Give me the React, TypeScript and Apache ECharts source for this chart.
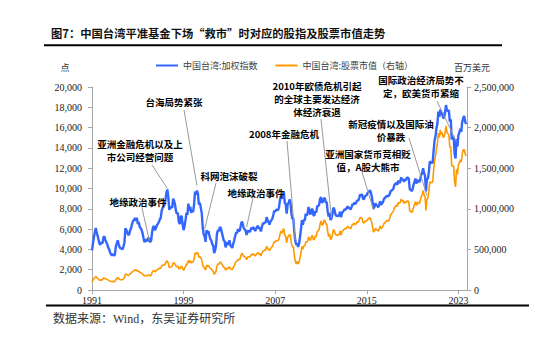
import React, { useEffect, useRef } from 'react';
import * as echarts from 'echarts';

// ---------- data ----------
const startYear = 1991;
const xTickYears = [1991, 1999, 2007, 2015, 2023];
const seriesNames = ['中国台湾:加权指数', '中国台湾:股票市值（右轴）'];
const titleText = '图7：中国台湾平准基金下场“救市”时对应的股指及股票市值走势';
const sourceText = '数据来源：Wind，东吴证券研究所';
const leftUnit = '点';
const rightUnit = '百万美元';

// TAIEX monthly, Jan 1991 .. Sep 2023
const taiex = [
  3900, 4600, 5200, 5700, 6100, 5600, 5300, 4900, 4500, 4500, 4700, 4600,
  5200, 5300, 4900, 4700, 4500, 4200, 4000, 3700, 3500, 3400, 3550, 3380,
  3500, 4300, 4600, 4900, 4500, 4200, 4100, 4100, 4000, 4300, 4700, 6070,
  5900, 5700, 5400, 5500, 5900, 6100, 6500, 6800, 6900, 7100, 6800, 7120,
  6500, 6700, 6200, 6100, 5900, 5600, 5100, 4700, 5000, 4900, 4800, 5170,
  5000, 4700, 4900, 5700, 6200, 6300, 5900, 6100, 6400, 6500, 6700, 6930,
  7100, 7800, 8100, 8200, 8400, 8900, 9600, 9900, 9100, 7900, 8100, 8190,
  8100, 9000, 8800, 8400, 7800, 7500, 7600, 6700, 6500, 7200, 7300, 6420,
  5900, 6300, 6900, 7600, 7400, 8500, 7800, 8200, 7600, 7800, 7700, 8450,
  9700, 9400, 9800, 9500, 8400, 8600, 8100, 7600, 6200, 5500, 5300, 4740,
  5900, 5600, 5800, 5400, 5000, 4900, 4500, 4400, 3640, 3900, 4400, 5550,
  5900, 5800, 6200, 6100, 5700, 5300, 4900, 4800, 4200, 4500, 4700, 4450,
  4900, 4400, 4300, 4150, 4550, 4870, 5300, 5650, 5600, 6000, 5800, 5890,
  6400, 6750, 6500, 6120, 5980, 5840, 5420, 5770, 5850, 5710, 5840, 6140,
  6000, 6200, 6010, 5820, 6010, 6240, 6310, 6040, 6120, 5760, 6200, 6550,
  6530, 6700, 6610, 7170, 6900, 6700, 6450, 6750, 6880, 7020, 7390, 7820,
  7700, 7900, 7890, 7880, 8140, 8880, 9290, 8980, 9410, 9710, 8590, 8510,
  7520, 8410, 8570, 8920, 8620, 7520, 7020, 7050, 5720, 4870, 4460, 4590,
  4250, 4560, 5210, 6000, 6890, 6430, 6930, 6830, 7510, 7340, 7580, 8190,
  7640, 7440, 7920, 8000, 7370, 7330, 7760, 7620, 8240, 8290, 8370, 8970,
  9150, 8600, 8680, 9010, 9050, 8650, 8640, 7740, 7230, 7590, 6900, 7070,
  7520, 8120, 7930, 7500, 7300, 7300, 7270, 7400, 7720, 7170, 7580, 7700,
  7850, 7960, 7920, 8090, 8250, 8060, 8110, 7920, 8170, 8450, 8410, 8610,
  8460, 8640, 8850, 8790, 9080, 9390, 9320, 9440, 8970, 8970, 9190, 9310,
  9360, 9620, 9590, 9820, 9700, 9320, 8670, 8020, 8180, 8550, 8320, 8340,
  8140, 8410, 8740, 8380, 8540, 8670, 9000, 9070, 9170, 9290, 9240, 9250,
  9450, 9750, 9810, 9870, 10040, 10400, 10430, 10590, 10380, 10790, 10560, 10640,
  11100, 10820, 10950, 10660, 10870, 10840, 11060, 11060, 10980, 9900, 9890, 9730,
  9930, 10390, 10640, 10980, 10500, 10730, 10820, 10620, 10870, 11360, 11490, 12000,
  11500, 11290, 9710, 10990, 10940, 11620, 12660, 12590, 12520, 12550, 13720, 14730,
  15140, 15950, 16430, 17570, 17070, 17760, 17250, 17490, 16930, 16990, 17430, 18220,
  17670, 17650, 17690, 16590, 16810, 14830, 15000, 15100, 13420, 12950, 14880, 14140,
  15270, 15500, 15870, 15580, 16580, 16920, 17150, 16630, 16350,
];

// Market capitalisation, USD million, Jan 1991 .. Sep 2023
const marketCap = [
  95000, 124000, 140000, 154000, 165000, 151000, 143000, 132000, 122000, 122000, 127000, 124000,
  146000, 148000, 137000, 136000, 131000, 122000, 116000, 107000, 105000, 102000, 107000, 101000,
  105000, 129000, 143000, 152000, 140000, 130000, 127000, 127000, 128000, 138000, 150000, 194000,
  195000, 188000, 178000, 187000, 201000, 207000, 221000, 231000, 242000, 249000, 238000, 249000,
  228000, 235000, 217000, 214000, 207000, 196000, 184000, 169000, 180000, 176000, 173000, 186000,
  185000, 174000, 181000, 217000, 236000, 239000, 224000, 232000, 250000, 254000, 261000, 270000,
  270000, 296000, 308000, 303000, 311000, 329000, 355000, 356000, 328000, 277000, 284000, 287000,
  292000, 333000, 334000, 319000, 296000, 285000, 296000, 261000, 260000, 288000, 292000, 263000,
  242000, 265000, 290000, 319000, 318000, 366000, 335000, 361000, 334000, 343000, 347000, 380000,
  456000, 442000, 461000, 456000, 403000, 413000, 397000, 372000, 310000, 281000, 270000, 246000,
  307000, 291000, 302000, 281000, 265000, 260000, 239000, 233000, 193000, 207000, 233000, 294000,
  319000, 319000, 341000, 342000, 319000, 302000, 279000, 274000, 244000, 261000, 273000, 263000,
  289000, 264000, 258000, 249000, 278000, 297000, 329000, 350000, 353000, 378000, 371000, 377000,
  422000, 452000, 436000, 416000, 407000, 403000, 374000, 404000, 410000, 405000, 415000, 442000,
  432000, 446000, 433000, 419000, 433000, 449000, 461000, 441000, 447000, 420000, 453000, 478000,
  483000, 496000, 489000, 538000, 518000, 503000, 484000, 506000, 523000, 534000, 562000, 594000,
  593000, 608000, 608000, 607000, 627000, 684000, 725000, 700000, 734000, 757000, 670000, 664000,
  579000, 648000, 660000, 687000, 664000, 572000, 534000, 536000, 429000, 356000, 321000, 353000,
  319000, 342000, 396000, 462000, 537000, 502000, 547000, 540000, 593000, 587000, 606000, 655000,
  626000, 610000, 657000, 672000, 619000, 623000, 667000, 655000, 717000, 730000, 745000, 807000,
  851000, 800000, 807000, 856000, 860000, 813000, 812000, 720000, 658000, 691000, 621000, 636000,
  684000, 747000, 730000, 690000, 672000, 679000, 676000, 688000, 726000, 674000, 720000, 732000,
  746000, 756000, 752000, 769000, 784000, 766000, 770000, 752000, 784000, 811000, 807000, 827000,
  804000, 821000, 841000, 835000, 863000, 892000, 885000, 887000, 834000, 825000, 845000, 847000,
  852000, 875000, 873000, 894000, 873000, 839000, 780000, 714000, 728000, 761000, 740000, 742000,
  724000, 748000, 787000, 754000, 769000, 789000, 819000, 825000, 844000, 855000, 850000, 851000,
  888000, 926000, 942000, 957000, 974000, 1019000, 1022000, 1048000, 1028000, 1079000, 1067000, 1075000,
  1121000, 1093000, 1106000, 1066000, 1087000, 1073000, 1095000, 1095000, 1087000, 970000, 969000, 954000,
  973000, 1018000, 1053000, 1087000, 1040000, 1073000, 1082000, 1062000, 1098000, 1147000, 1172000, 1224000,
  1173000, 1152000, 981000, 1121000, 1127000, 1208000, 1329000, 1322000, 1327000, 1330000, 1468000, 1591000,
  1650000, 1739000, 1807000, 1933000, 1878000, 1971000, 1915000, 1941000, 1879000, 1886000, 1935000, 2022000,
  1944000, 1924000, 1911000, 1759000, 1765000, 1527000, 1530000, 1525000, 1329000, 1269000, 1488000, 1428000,
  1542000, 1566000, 1603000, 1574000, 1675000, 1726000, 1732000, 1680000, 1651000,
];

// annotation texts and the data point (month index, index value) each one points at
const annotationTexts = [
  ['亚洲金融危机以及上', '市公司经营问题'],
  ['台海局势紧张'],
  ['科网泡沫破裂'],
  ['地缘政治事件'],
  ['地缘政治事件'],
  ['2008年金融危机'],
  ['2010年欧债危机引起', '的全球主要发达经济', '体经济衰退'],
  ['亚洲国家货币竞相贬', '值，A股大熊市'],
  ['新冠疫情以及国际油', '价暴跌'],
  ['国际政治经济局势不', '定，欧美货币紧缩'],
];
const annotationTargets = [
  [79, 10000],
  [110, 10300],
  [118, 6000],
  [60, 4900],
  [162, 6200],
  [213, 4900],
  [251, 7100],
  [295, 7900],
  [351, 9300],
  [382, 14600],
];

// ---------- layout (pixels) ----------
const annotationLayout = [
  { tx: 140, ty: 144, lh: 13, from: [152, 165] },
  { tx: 174, ty: 102, lh: 13, from: [184, 110] },
  { tx: 229, ty: 176, lh: 13, from: [216, 183] },
  { tx: 138, ty: 202, lh: 13, from: [142, 208] },
  { tx: 256, ty: 193, lh: 13, from: [253, 198] },
  { tx: 284, ty: 134, lh: 13, from: [287, 141] },
  { tx: 317, ty: 86, lh: 13, from: [321, 119] },
  { tx: 368, ty: 154, lh: 13, from: [362, 172] },
  { tx: 391, ty: 124, lh: 13, from: [409, 138] },
  { tx: 421, ty: 80, lh: 13, from: [437, 101] },
];

const fmt = (v: number) => String(v).replace(/\B(?=(\d{3})+(?!\d))/g, ',');
const CJK = '"Noto Sans CJK SC"';
const SERIF = '"Liberation Serif", "Times New Roman", serif';
const axisGray = '#a6a6a6';

export default function App() {
  const ref = useRef<HTMLDivElement>(null);
  useEffect(() => {
    document.body.style.margin = '0';
    const chart = echarts.init(ref.current!, null, { renderer: 'svg' });
    const tickMonths = xTickYears.map((y) => (y - startYear) * 12);
    chart.setOption({
      animation: false,
      backgroundColor: '#fff',
      grid: { left: 92, right: 83, top: 87, bottom: 58 },
      legend: {
        left: 151,
        top: 56,
        icon: 'rect',
        itemWidth: 22,
        itemHeight: 2,
        itemGap: 18,
        data: seriesNames,
        textStyle: { fontSize: 9, color: '#404040', fontFamily: CJK },
      },
      xAxis: {
        type: 'value',
        min: 0,
        max: 393,
        interval: 96,
        splitLine: { show: false },
        axisLine: { show: true, lineStyle: { color: axisGray } },
        axisTick: { show: true, length: 4, customValues: tickMonths, lineStyle: { color: axisGray } },
        axisLabel: {
          customValues: tickMonths,
          formatter: (v: number) => String(startYear + Math.round(v / 12)),
          fontFamily: SERIF,
          fontSize: 10,
          color: '#222',
          margin: 5,
        },
      },
      yAxis: [
        {
          type: 'value',
          min: 0,
          max: 20000,
          interval: 2000,
          splitLine: { show: false },
          axisLine: { show: true, lineStyle: { color: axisGray } },
          axisTick: { show: true, length: 4, lineStyle: { color: axisGray } },
          axisLabel: { formatter: fmt, fontFamily: SERIF, fontSize: 10, color: '#222', margin: 10 },
        },
        {
          type: 'value',
          min: 0,
          max: 2500000,
          interval: 500000,
          position: 'right',
          splitLine: { show: false },
          axisLine: { show: true, lineStyle: { color: axisGray } },
          axisTick: { show: true, length: 4, lineStyle: { color: axisGray } },
          axisLabel: { formatter: fmt, fontFamily: SERIF, fontSize: 10, color: '#222', margin: 7 },
        },
      ],
      series: [
        {
          name: seriesNames[1],
          type: 'line',
          yAxisIndex: 1,
          showSymbol: false,
          color: '#ff9900',
          lineStyle: { width: 1.6, color: '#ff9900' },
          data: marketCap.map((v, i) => [i, v]),
          z: 2,
        },
        {
          name: seriesNames[0],
          type: 'line',
          yAxisIndex: 0,
          showSymbol: false,
          color: '#3366ff',
          lineStyle: { width: 2.4, color: '#3366ff' },
          data: taiex.map((v, i) => [i, v]),
          z: 3,
        },
      ],
    });

    const gfx: any[] = [
      {
        type: 'text', x: 51, y: 33,
        style: { text: titleText, fill: '#111', font: `bold 11.3px ${CJK}`, textAlign: 'left', textVerticalAlign: 'middle' },
      },
      { type: 'rect', shape: { x: 44, y: 44.3, width: 458, height: 2 }, style: { fill: '#000' } },
      { type: 'rect', shape: { x: 46, y: 304.5, width: 483, height: 2 }, style: { fill: '#000' } },
      {
        type: 'text', x: 53, y: 319,
        style: { text: sourceText, fill: '#333', font: `12px ${SERIF}, ${CJK}`, textAlign: 'left', textVerticalAlign: 'middle' },
      },
      {
        type: 'text', x: 65, y: 67,
        style: { text: leftUnit, fill: '#333', font: `9px ${CJK}`, textAlign: 'center', textVerticalAlign: 'middle' },
      },
      {
        type: 'text', x: 472, y: 67,
        style: { text: rightUnit, fill: '#333', font: `9px ${CJK}`, textAlign: 'center', textVerticalAlign: 'middle' },
      },
    ];
    annotationTexts.forEach((lines, k) => {
      const lay = annotationLayout[k];
      const p = chart.convertToPixel({ seriesIndex: 1 }, annotationTargets[k]) as number[];
      gfx.push({
        type: 'line',
        z: 10,
        shape: { x1: lay.from[0], y1: lay.from[1], x2: p[0], y2: p[1] },
        style: { stroke: '#9a9a9a', lineWidth: 1 },
      });
      lines.forEach((t, j) => {
        gfx.push({
          type: 'text',
          z: 11,
          x: lay.tx,
          y: lay.ty + j * lay.lh,
          style: { text: t, fill: '#000', font: `bold 9.5px ${CJK}`, textAlign: 'center', textVerticalAlign: 'middle' },
        });
      });
    });
    chart.setOption({ graphic: gfx });
    return () => chart.dispose();
  }, []);
  return <div ref={ref} style={{ position: 'absolute', left: 0, top: 0, width: 550, height: 348 }} />;
}
